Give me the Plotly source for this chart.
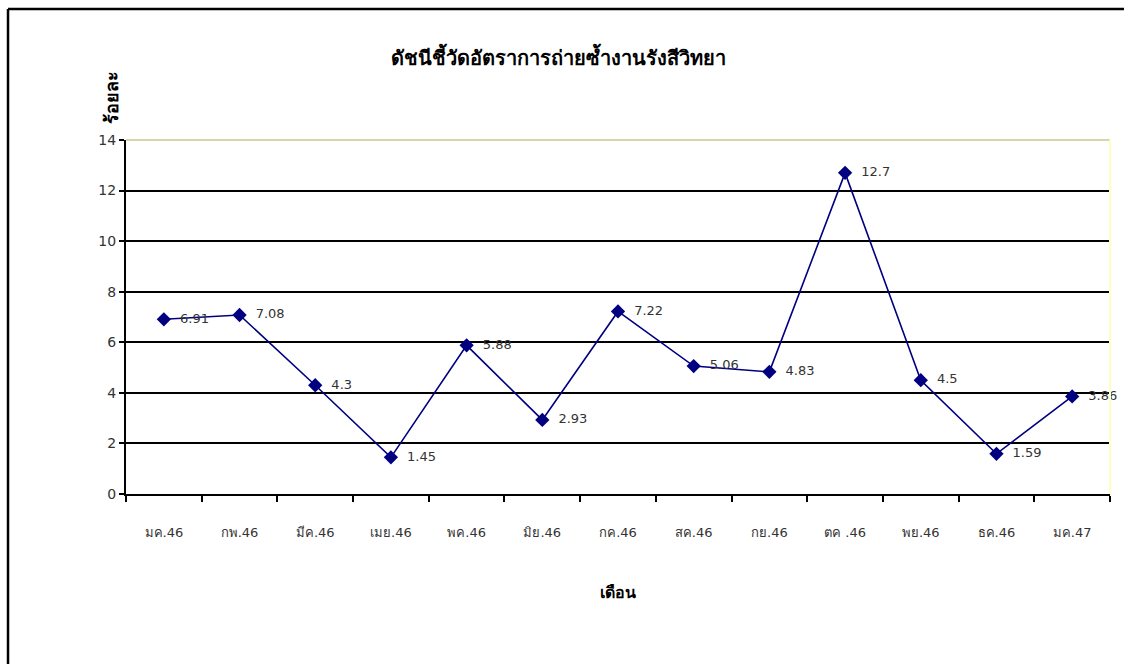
import plotly.graph_objects as go

months = ["มค.46", "กพ.46", "มีค.46", "เมย.46", "พค.46", "มิย.46", "กค.46",
          "สค.46", "กย.46", "ตค .46", "พย.46", "ธค.46", "มค.47"]
rates = [6.91, 7.08, 4.3, 1.45, 5.88, 2.93, 7.22, 5.06, 4.83, 12.7, 4.5, 1.59, 3.86]
y_ticks = [0, 2, 4, 6, 8, 10, 12, 14]

FONT = "Tahoma, DejaVu Sans, Noto Sans, sans-serif"
TXT = "#333333"
NAVY = "#000080"

fig = go.Figure()
fig.add_trace(go.Scatter(
    x=months, y=rates,
    mode="lines+markers+text",
    line=dict(color=NAVY, width=1.6),
    marker=dict(symbol="diamond", size=11, color=NAVY),
    text=[f"  {v:g}" for v in rates],
    textposition="middle right",
    textfont=dict(family=FONT, size=13, color=TXT),
    cliponaxis=False,
    showlegend=False,
))

fig.update_layout(
    width=1124, height=664,
    margin=dict(l=126, r=14, t=140, b=170),
    paper_bgcolor="white", plot_bgcolor="white",
    title=dict(text="<b>ดัชนีชี้วัดอัตราการถ่ายซ้ำงานรังสีวิทยา</b>",
               x=0.497, xanchor="center", y=0.912, yanchor="middle",
               font=dict(family=FONT, size=20, color="black")),
    xaxis=dict(
        type="category", range=[-0.5, 12.5],
        tickson="boundaries", ticks="outside", ticklen=6, tickwidth=2, tickcolor="black",
        ticklabelstandoff=25,
        showline=True, linecolor="black", linewidth=2,
        showgrid=False, zeroline=False,
        tickfont=dict(family=FONT, size=13, color=TXT),
        title=dict(text="<b>เดือน</b>", standoff=48,
                   font=dict(family=FONT, size=16, color="black")),
    ),
    yaxis=dict(
        range=[0, 14], tickvals=y_ticks,
        ticks="outside", ticklen=5, tickwidth=2, tickcolor="black",
        showline=True, linecolor="black", linewidth=2,
        showgrid=True, gridcolor="black", gridwidth=1.5, zeroline=False,
        tickfont=dict(family=FONT, size=14, color=TXT),
    ),
    shapes=[
        # pale frame edges of the plot area
        dict(type="line", xref="paper", yref="paper", x0=0, x1=1, y0=1, y1=1,
             line=dict(color="#d8d8a4", width=2)),
        dict(type="line", xref="paper", yref="paper", x0=1, x1=1, y0=0, y1=1,
             line=dict(color="#ffffc0", width=2)),
        # outer chart border (top and left edges; the rest lies off-page)
        dict(type="line", xref="paper", yref="paper",
             x0=-0.1199, x1=1.06, y0=1.370, y1=1.370,
             line=dict(color="black", width=2.5), layer="above"),
        dict(type="line", xref="paper", yref="paper",
             x0=-0.1199, x1=-0.1199, y0=-0.55, y1=1.370,
             line=dict(color="black", width=2.5), layer="above"),
    ],
    annotations=[
        dict(text="<b>ร้อยละ</b>", xref="paper", yref="paper",
             x=-0.0145, y=1.12, textangle=-90, showarrow=False,
             xanchor="center", yanchor="middle",
             font=dict(family=FONT, size=18, color="black")),
    ],
)

fig.write_html("out.html")
